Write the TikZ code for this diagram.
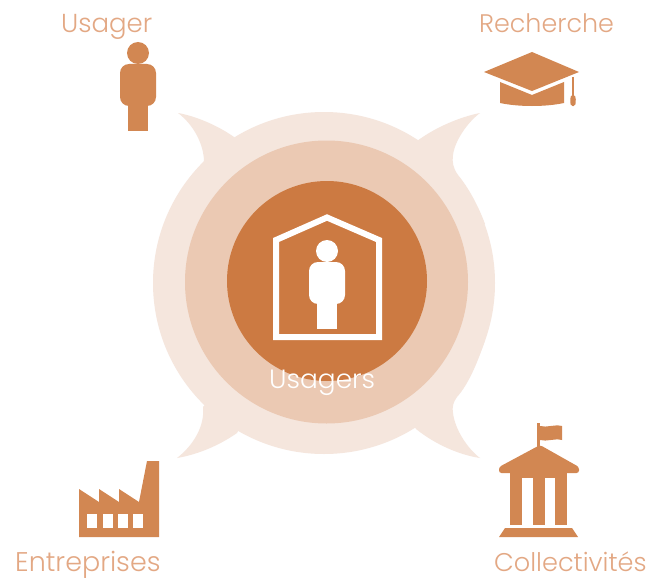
\documentclass[tikz,border=0pt]{standalone}
\usepackage{fontspec}
\setmainfont{Poppins Light}
\definecolor{halo}{HTML}{F5E6DD}
\definecolor{ring}{HTML}{EBC9B3}
\definecolor{core}{HTML}{CC7A42}
\definecolor{icon}{HTML}{D28752}
\definecolor{label}{HTML}{E3A884}
\newcommand{\usagerfig}[3]{
    \fill[#3] (#1+138,#2+53) circle (11);
    \fill[#3,rounded corners=9] (#1+120,#2+64) rectangle (#1+156,#2+106);
    \fill[#3] (#1+128,#2+100) rectangle (#1+148,#2+131);
}
\newcommand{\taille}[1]{\fontsize{#1}{#1}\selectfont}
\begin{document}
\begin{tikzpicture}[x=1pt,y=-1pt]
                        \tikzstyle{rond}=[circle,inner sep=0pt,minimum size=#1]
                        \tikzstyle{titre}=[inner sep=0pt,anchor=base west,text=label]
                        \useasboundingbox (0,0) rectangle (648,578);
                        \fill[white] (0,0) rectangle (648,578);
                        \node[rond=342pt,fill=halo] (halo) at (324,283) {};
                        \fill[halo] (204,162) .. controls (204,145) and (194,125) .. (178,113)
                            .. controls (195,116) and (217,125) .. (234,137) -- (halo.center) -- cycle;
                        \fill[halo] (485,224) .. controls (478,205) and (468,187) .. (458,175)
                            .. controls (453,168) and (452,162) .. (453,155)
                            .. controls (455,140) and (468,122) .. (480,113)
                            .. controls (460,117) and (436,127) .. (417,141) -- (halo.center) -- cycle;
                        \fill[halo] (203,407) .. controls (205,425) and (194,445) .. (177,458)
                            .. controls (195,455) and (217,447) .. (237,433) -- (halo.center) -- cycle;
                        \fill[halo] (485,340) .. controls (478,362) and (468,385) .. (457,397)
                            .. controls (453,402) and (452,408) .. (453,413)
                            .. controls (455,430) and (468,449) .. (480,458)
                            .. controls (460,455) and (436,445) .. (416,429) -- (halo.center) -- cycle;
                        \node[rond=283pt,fill=ring] (ring) at (326.5,282) {};
                        \node[rond=200pt,fill=core] (core) at (327,281) {};
                        \draw[white,line width=6pt,miter limit=4] (276,337) -- (276,240) -- (327,217.5) -- (379,240) -- (379,337) -- cycle;
                        \usagerfig{189}{198}{white}
                        \usagerfig{0}{0}{icon}
                        \fill[icon] (484,72) -- (532,52) -- (579,72) -- (532,91) -- cycle;
                        \fill[icon] (500,82) -- (532,95) -- (564,82) -- (564,103) .. controls (545,107) and (519,107) .. (500,103) -- cycle;
                        \draw[icon,line width=2pt] (573,77) -- (573,98);
                        \fill[icon,rounded corners=1.5] (571,95) -- (575,95) -- (576,101) -- (575,106) -- (571,106) -- (570,101) -- cycle;
                        \fill[icon] (79,489) -- (99,502) -- (99,489) -- (119,502) -- (119,489) -- (139,502) -- (147,461) -- (159,461) -- (159,537) -- (79,537) -- cycle;
                        \foreach \x in {87,102.5,118,133}
                            \fill[white] (\x,514) rectangle (\x+10,528);
                        \fill[icon] (537,423) rectangle (540,447);
                        \fill[icon] (540,426) .. controls (547,428) and (554,424) .. (562,426) -- (562,440) .. controls (554,438) and (547,442) .. (540,440) -- cycle;
                        \fill[icon,rounded corners=2.5] (540,445) -- (579,467) -- (579,473) -- (499,473) -- (499,467) -- cycle;
                        \fill[icon] (510,471) rectangle (567,478);
                        \foreach \x in {510,533,555}
                            \fill[icon] (\x,478) rectangle (\x+12,525);
                        \fill[icon] (505,528) -- (572,528) -- (578,537) -- (499,537) -- cycle;
                        \node[titre,font=\taille{26}] (usager) at (61,33) {Usager};
                        \node[titre,font=\taille{25.4}] (recherche) at (479,33) {Recherche};
                        \node[titre,font=\taille{27}] (entreprises) at (15,571) {Entreprises};
                        \node[titre,font=\taille{25.6}] (collectivites) at (494,571) {Collectivités};
                        \node[titre,text=white,font=\taille{26.4}] (usagers) at (269,388) {Usagers};
                    \end{tikzpicture}
\end{document}
